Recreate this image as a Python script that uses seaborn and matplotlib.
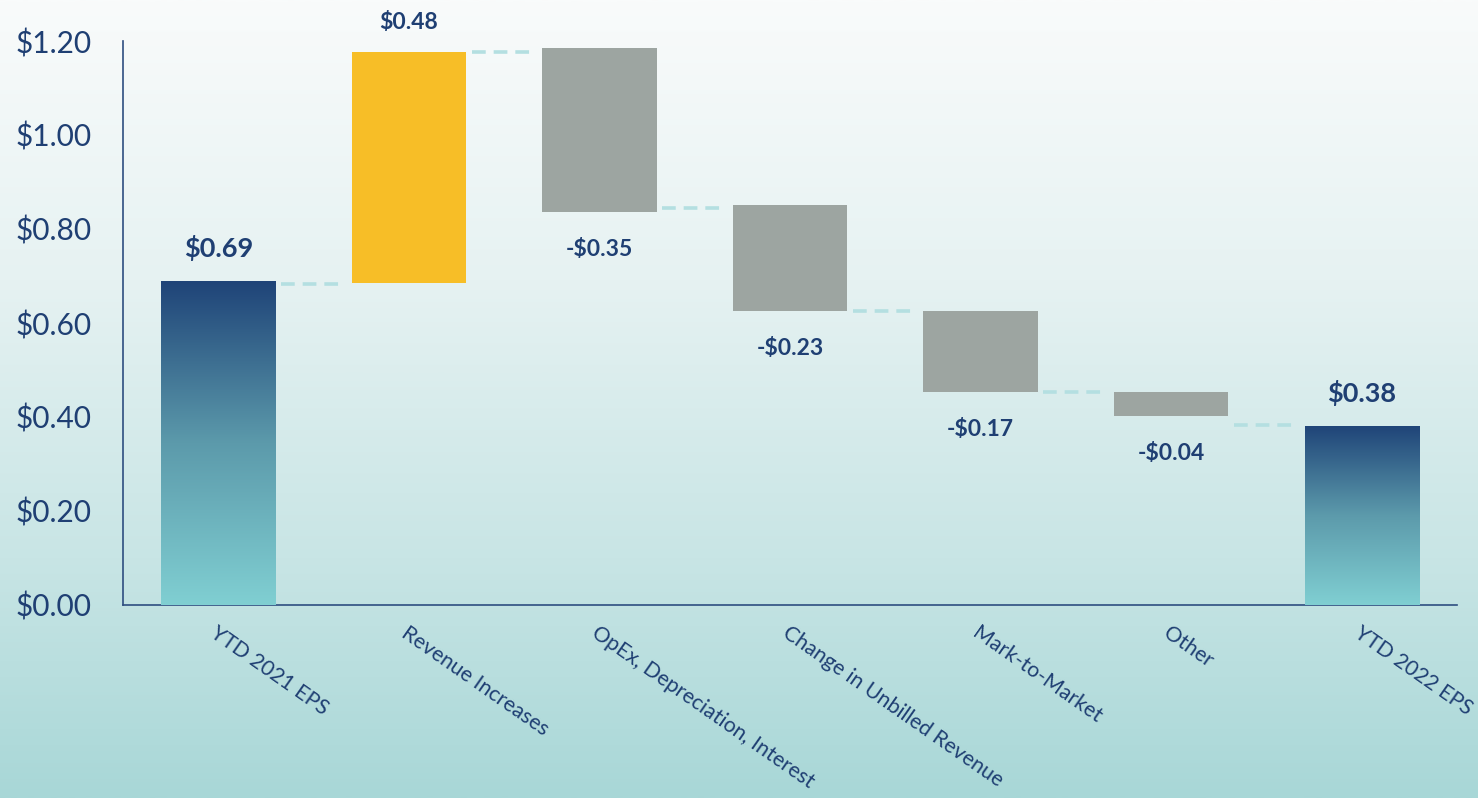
import numpy as np
import pandas as pd
import matplotlib
matplotlib.use("Agg")
import matplotlib.pyplot as plt
import seaborn as sns
from matplotlib.colors import LinearSegmentedColormap
from matplotlib.ticker import FixedLocator, FuncFormatter

# ---------------- data ----------------
categories = ["YTD 2021 EPS", "Revenue Increases", "OpEx, Depreciation, Interest",
              "Change in Unbilled Revenue", "Mark-to-Market", "Other", "YTD 2022 EPS"]
bar_low = [0.0, 0.685, 0.837, 0.626, 0.454, 0.403, 0.0]
bar_high = [0.689, 1.177, 1.185, 0.851, 0.625, 0.454, 0.381]
connector_levels = [0.684, 1.177, 0.845, 0.626, 0.454, 0.383]
value_labels = ["$0.69", "$0.48", "-$0.35", "-$0.23", "-$0.17", "-$0.04", "$0.38"]
kinds = ["total", "increase", "decrease", "decrease", "decrease", "decrease", "total"]
y_ticks = [0.0, 0.2, 0.4, 0.6, 0.8, 1.0, 1.2]

# ---------------- style ----------------
sns.set_theme(style="white")
plt.rcParams["font.family"] = ["Lato", "DejaVu Sans"]

NAVY = "#1F3F73"
AXIS = "#2E4E80"
YELLOW = "#F7BE27"
GREY = "#9DA5A1"
DASH = "#B4DFE1"
kind_colors = {"total": NAVY, "increase": YELLOW, "decrease": GREY}

fig = plt.figure(figsize=(14.78, 7.98), dpi=100)

# background gradient
bg = fig.add_axes([0, 0, 1, 1], zorder=-10)
bg_cmap = LinearSegmentedColormap.from_list(
    "bg", [(0.0, (249/255, 251/255, 251/255)),
           (0.35, (230/255, 242/255, 242/255)),
           (0.7, (200/255, 229/255, 229/255)),
           (1.0, (168/255, 215/255, 215/255))])
bg.imshow(np.linspace(0, 1, 512).reshape(-1, 1), aspect="auto", cmap=bg_cmap,
          extent=[0, 1, 0, 1], origin="upper")
bg.set_axis_off()

ax = fig.add_axes([123/1478, (798-605)/798, (1457-123)/1478, (605-41)/798])
ax.set_facecolor("none")

df = pd.DataFrame({"category": categories,
                   "height": np.array(bar_high) - np.array(bar_low),
                   "kind": kinds})
sns.barplot(data=df, x="category", y="height", hue="kind", palette=kind_colors,
            width=0.6, dodge=False, legend=False, ax=ax, saturation=1,
            order=categories, edgecolor="none", linewidth=0)

bars = sorted(ax.patches, key=lambda p: p.get_x())
bar_cmap = LinearSegmentedColormap.from_list("tot", ["#80CFD2", "#5C9AAB", "#1F4478"])
for i, p in enumerate(bars):
    p.set_y(bar_low[i])
    p.set_zorder(3)
    if kinds[i] == "total":
        x0 = p.get_x()
        w = p.get_width()
        p.set_facecolor("none")
        grad = np.linspace(0, 1, 256).reshape(-1, 1)
        im = ax.imshow(grad, aspect="auto", cmap=bar_cmap, origin="lower",
                       extent=[x0, x0 + w, bar_low[i], bar_high[i]], zorder=3)
        im.set_clip_path(p)

# connectors
half = bars[0].get_width() / 2
for i, lvl in enumerate(connector_levels):
    ax.plot([i + half + 0.03, i + 1 - half - 0.03], [lvl, lvl], color=DASH,
            lw=2.6, dashes=(3.8, 2.2), solid_capstyle="butt", zorder=2)

# value labels
for i, lab in enumerate(value_labels):
    if kinds[i] == "total":
        ax.annotate(lab, (i, bar_high[i]), xytext=(0, 24), textcoords="offset points",
                    ha="center", va="center", fontsize=19.5, fontweight="bold", color=NAVY)
    elif kinds[i] == "increase":
        ax.annotate(lab, (i, bar_high[i]), xytext=(0, 21), textcoords="offset points",
                    ha="center", va="center", fontsize=16.5, fontweight="bold", color=NAVY)
    else:
        ax.annotate(lab, (i, bar_low[i]), xytext=(0, -27), textcoords="offset points",
                    ha="center", va="center", fontsize=16.5, fontweight="bold", color=NAVY)

ax.set_xlim(-0.5, len(categories) - 0.5)
ax.set_ylim(0, 1.2)
ax.yaxis.set_major_locator(FixedLocator(y_ticks))
ax.yaxis.set_major_formatter(FuncFormatter(lambda v, _: f"${v:.2f}"))
ax.set_xlabel("")
ax.set_ylabel("")

for s in ["top", "right"]:
    ax.spines[s].set_visible(False)
for s in ["left", "bottom"]:
    ax.spines[s].set_color(AXIS)
    ax.spines[s].set_linewidth(1.2)

ax.tick_params(axis="y", direction="out", length=7.5, width=1.1, color=AXIS,
               labelsize=21.5, labelcolor=NAVY, pad=15)
ax.xaxis.set_minor_locator(FixedLocator(np.arange(-0.5, len(categories), 1.0)))
ax.tick_params(axis="x", which="major", length=0, pad=13, labelsize=15.3, labelcolor=NAVY)
ax.tick_params(axis="x", which="minor", direction="in", length=5, width=1.1, color=AXIS)
for t in ax.get_xticklabels():
    t.set_rotation(-35)
    t.set_ha("left")
    t.set_va("top")
    t.set_rotation_mode("anchor")

fig.savefig("out.png", dpi=100)
